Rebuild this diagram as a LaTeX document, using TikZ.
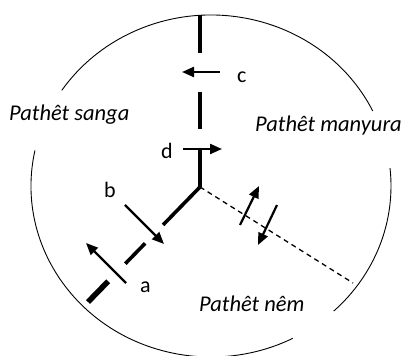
\documentclass[tikz,border=0pt]{standalone}
\usepackage{fontspec}
\setmainfont{Carlito}
\usetikzlibrary{arrows.meta,calc}

\begin{document}
\begin{tikzpicture}[
  x=1pt, y=1pt,
  rim/.style={line width=0.9pt},
  seg/.style={line width=3.6pt},
  thickseg/.style={line width=5.5pt},
  dline/.style={line width=1.3pt, dash pattern=on 5pt off 4pt},
  arr/.style={-{Triangle[length=12pt,width=10pt]}, line width=2.2pt},
  mode/.style={font=\fontsize{22.5}{26}\selectfont\itshape, anchor=base west, inner sep=0pt},
  lab/.style={font=\fontsize{22}{26}\selectfont, anchor=base west, inner sep=0pt}
]
\useasboundingbox (0,0) rectangle (407,356);
% centre of the circle and end points of the three lines
\coordinate (C) at (211,170);
\coordinate (J) at (200,169);
\coordinate (T) at (200,341);
\coordinate (L) at (88,54);
\coordinate (R) at (353,73);
% circle, broken where the labels stand
\draw[rim] ($(C)+(26:180 and 171)$) arc[start angle=26, end angle=146, x radius=180pt, y radius=171pt];
\draw[rim] ($(C)+(168:180 and 171)$) arc[start angle=168, end angle=297, x radius=180pt, y radius=171pt];
\draw[rim] ($(C)+(-47:180 and 171)$) arc[start angle=-47, end angle=6, x radius=180pt, y radius=171pt];
% vertical line
\draw[seg] (T) -- ($(J)!0.779!(T)$);
\draw[seg] ($(J)!0.552!(T)$) -- ($(J)!0.337!(T)$);
\draw[seg] ($(J)!0.221!(T)$) -- (J);
% line to the lower left
\draw[seg] (J) -- ($(J)!0.33!(L)$);
\draw[seg] ($(J)!0.49!(L)$) -- ($(J)!0.667!(L)$);
\draw[thickseg] ($(J)!0.82!(L)$) -- (L);
% dashed line to the lower right
\draw[dline] (J) -- (R);
% arrows
\coordinate (cs) at (220,284); \coordinate (ce) at (182,284);
\coordinate (ds) at (183,207); \coordinate (de) at (222,207);
\coordinate (bs) at (125,151); \coordinate (be) at (164,112);
\coordinate (as) at (126,73);  \coordinate (ae) at (86,113);
\coordinate (us) at (240,131); \coordinate (ue) at (259,170);
\coordinate (vs) at (277,151); \coordinate (ve) at (258,111);
\draw[arr] (cs) -- (ce);
\draw[arr] (ds) -- (de);
\draw[arr] (bs) -- (be);
\draw[arr] (as) -- (ae);
\draw[arr] (us) -- (ue);
\draw[arr] (vs) -- (ve);
% labels
\node[lab] (lc) at (237,273) {c};
\node[lab] (ld) at (161,197) {d};
\node[lab] (lb) at (104,158) {b};
\node[lab] (la) at (140,63) {a};
\node[mode] (sanga) at (9,235) {Pathêt sanga};
\node[mode] (manyura) at (255,224) {Pathêt manyura};
\node[mode] (nem) at (199,44) {Pathêt nêm};
\end{tikzpicture}
\end{document}
